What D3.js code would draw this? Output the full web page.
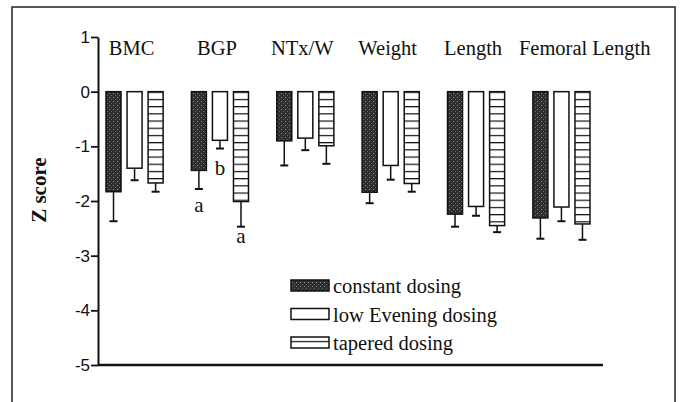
<!DOCTYPE html>
<html>
<head>
<meta charset="utf-8">
<script src="https://cdn.jsdelivr.net/npm/d3@7"></script>
<style>
    body { margin: 0; background: white; }
</style>
</head>
<body>
<div id="chart-container"></div>
<script>
// Data
const categories = ["BMC", "BGP", "NTx/W", "Weight", "Length", "Femoral Length"];
const series = ["constant dosing", "low Evening dosing", "tapered dosing"];

const constantMeans = [-1.83, -1.44, -0.90, -1.84, -2.24, -2.31];
const lowEveningMeans = [-1.40, -0.89, -0.85, -1.35, -2.10, -2.11];
const taperedMeans = [-1.67, -2.01, -0.99, -1.68, -2.45, -2.42];

const constantErr = [0.54, 0.34, 0.45, 0.20, 0.23, 0.38];
const lowEveningErr = [0.22, 0.15, 0.22, 0.26, 0.17, 0.26];
const taperedErr = [0.16, 0.46, 0.33, 0.15, 0.12, 0.29];

const yTicks = [-5, -4, -3, -2, -1, 0, 1];

// significance letters (z = where the letter sits)
const letters = [
    { category: "BGP", serie: "constant dosing", text: "a", z: -2.20 },
    { category: "BGP", serie: "low Evening dosing", text: "b", z: -1.52 },
    { category: "BGP", serie: "tapered dosing", text: "a", z: -2.77 }
];

const means = [constantMeans, lowEveningMeans, taperedMeans];
const errs = [constantErr, lowEveningErr, taperedErr];

const rows = [];
categories.forEach((cat, i) => {
    series.forEach((s, j) => {
        rows.push({ category: cat, serie: s, mean: means[j][i], err: errs[j][i] });
    });
});

const width = 681;
const height = 402;
const serif = "'Liberation Serif', 'Times New Roman', serif";
const sans = "'Liberation Sans', Arial, sans-serif";

const svg = d3.select("#chart-container")
    .append("svg")
    .attr("width", width)
    .attr("height", height);

// patterns for the three groups
const defs = svg.append("defs");
const dark = defs.append("pattern")
    .attr("id", "pat-constant")
    .attr("patternUnits", "userSpaceOnUse")
    .attr("width", 4)
    .attr("height", 4);
dark.append("rect").attr("width", 4).attr("height", 4).attr("fill", "#2e2e2e");
dark.append("rect").attr("x", 1).attr("y", 1).attr("width", 1).attr("height", 1).attr("fill", "#8a8a8a");
dark.append("rect").attr("x", 3).attr("y", 3).attr("width", 1).attr("height", 1).attr("fill", "#666");

const yScale = d3.scaleLinear()
    .domain([-5, 1])
    .range([365, 37]);

const stripes = defs.append("pattern")
    .attr("id", "pat-tapered")
    .attr("patternUnits", "userSpaceOnUse")
    .attr("y", yScale(0))
    .attr("width", 8)
    .attr("height", 7.2);
stripes.append("rect").attr("width", 8).attr("height", 7.2).attr("fill", "white");
stripes.append("line")
    .attr("x1", 0).attr("x2", 8)
    .attr("y1", 0.6).attr("y2", 0.6)
    .attr("stroke", "#111")
    .attr("stroke-width", 1.2);

const fills = {
    "constant dosing": "url(#pat-constant)",
    "low Evening dosing": "white",
    "tapered dosing": "url(#pat-tapered)"
};

// outer frame
svg.append("rect")
    .attr("x", 12)
    .attr("y", 7)
    .attr("width", 663)
    .attr("height", 410)
    .attr("fill", "none")
    .attr("stroke", "#222")
    .attr("stroke-width", 1.5);

const xScale = d3.scaleBand()
    .domain(categories)
    .range([106, 590])
    .paddingInner(0.331);

const xInner = d3.scaleBand()
    .domain(series)
    .range([0, xScale.bandwidth()])
    .paddingInner(0.286);

const axisX = 98;

// Y axis
const axisY = d3.axisLeft(yScale)
    .tickValues(yTicks)
    .tickFormat(d => String(d))
    .tickSize(7)
    .tickSizeOuter(0)
    .tickPadding(1);

const gy = svg.append("g")
    .attr("transform", `translate(${axisX}, 0)`)
    .call(axisY);
gy.select(".domain").attr("stroke", "#111").attr("stroke-width", 2);
gy.selectAll(".tick line").attr("stroke", "#111").attr("stroke-width", 1.8);
gy.selectAll(".tick text")
    .style("font-family", sans)
    .style("font-size", "17px")
    .attr("fill", "#111");

// bottom line at -5
svg.append("line")
    .attr("x1", axisX)
    .attr("x2", xScale.range()[1] + 13)
    .attr("y1", yScale(-5))
    .attr("y2", yScale(-5))
    .attr("stroke", "#111")
    .attr("stroke-width", 2.5);

svg.append("text")
    .text("Z score")
    .attr("transform", `translate(46, ${yScale(-1.8)}) rotate(-90)`)
    .attr("text-anchor", "middle")
    .style("font-family", serif)
    .style("font-weight", "bold")
    .style("font-size", "21px")
    .attr("fill", "#111");

// category labels
svg.selectAll(".cat-text")
    .data(categories)
    .enter()
    .append("text")
    .attr("class", "cat-text")
    .text(d => d)
    .attr("x", (d, i) => i === categories.length - 1 ? xScale(d) - 14 : xScale(d) + xScale.bandwidth() / 2 - 3)
    .attr("y", 55)
    .attr("text-anchor", (d, i) => i === categories.length - 1 ? "start" : "middle")
    .style("font-family", serif)
    .style("font-size", "20.5px")
    .attr("fill", "#111");

const barX = d => xScale(d.category) + xInner(d.serie);
const barMid = d => barX(d) + xInner.bandwidth() / 2;

// error bars (below the bars)
const errG = svg.append("g").attr("stroke", "#111").attr("stroke-width", 1.5);
errG.selectAll(".err-line")
    .data(rows)
    .enter()
    .append("line")
    .attr("x1", barMid).attr("x2", barMid)
    .attr("y1", d => yScale(d.mean))
    .attr("y2", d => yScale(d.mean - d.err));
errG.selectAll(".err-cap")
    .data(rows)
    .enter()
    .append("line")
    .attr("x1", d => barMid(d) - 4).attr("x2", d => barMid(d) + 4)
    .attr("y1", d => yScale(d.mean - d.err))
    .attr("y2", d => yScale(d.mean - d.err))
    .attr("stroke-width", 2);

// bars
svg.selectAll(".bar")
    .data(rows)
    .enter()
    .append("rect")
    .attr("class", "bar")
    .attr("x", barX)
    .attr("y", yScale(0))
    .attr("width", xInner.bandwidth())
    .attr("height", d => yScale(d.mean) - yScale(0))
    .attr("fill", d => fills[d.serie])
    .attr("stroke", "#111")
    .attr("stroke-width", 1.5);

// letters
svg.selectAll(".letter")
    .data(letters)
    .enter()
    .append("text")
    .attr("class", "letter")
    .text(d => d.text)
    .attr("x", d => xScale(d.category) + xInner(d.serie) + xInner.bandwidth() / 2)
    .attr("y", d => yScale(d.z))
    .attr("text-anchor", "middle")
    .style("font-family", serif)
    .style("font-size", "21px")
    .attr("fill", "#111");

// legend
const legend = svg.append("g").attr("transform", "translate(291, 293)");
const legendRow = legend.selectAll(".legend-row")
    .data(series)
    .enter()
    .append("g")
    .attr("class", "legend-row")
    .attr("transform", (d, i) => `translate(0, ${i * 28.5})`);
legendRow.append("rect")
    .attr("x", 0)
    .attr("y", -13)
    .attr("width", 38)
    .attr("height", 11)
    .attr("fill", d => fills[d])
    .attr("stroke", "#111")
    .attr("stroke-width", 1.5);
legendRow.append("text")
    .text(d => d)
    .attr("x", 42)
    .attr("y", 0)
    .style("font-family", serif)
    .style("font-size", "20.5px")
    .attr("fill", "#111");
</script>
</body>
</html>
